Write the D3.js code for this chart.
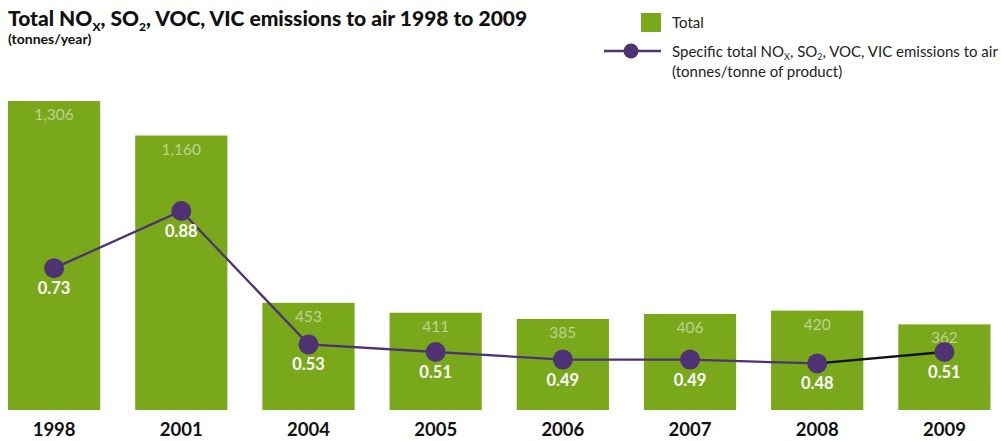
<!DOCTYPE html>
<html>
<head>
<meta charset="utf-8">
<script src="https://cdn.jsdelivr.net/npm/d3@7"></script>
<style>
  html, body { margin: 0; padding: 0; background: #fff; }
  svg { display: block; font-family: Lato, "Noto Sans", sans-serif; }
</style>
</head>
<body>
<svg id="chart" width="1001" height="441"></svg>
<script>
// Emissions per year (tonnes) and specific emissions (tonnes per tonne of product)
const years = ["1998", "2001", "2004", "2005", "2006", "2007", "2008", "2009"];
const totals = [1306, 1160, 453, 411, 385, 406, 420, 362];
const specific = [0.73, 0.88, 0.53, 0.51, 0.49, 0.49, 0.48, 0.51];

const GREEN = "#7aa81b";
const GREEN_LABEL = "#bcd394";
const PURPLE = "#4f3273";
const FONT = "Lato, 'Noto Sans', sans-serif";

const svg = d3.select("#chart");

const x = d3.scaleBand()
  .domain(years)
  .range([8, 990.5])
  .paddingInner(0.275)
  .paddingOuter(0);

const y = d3.scaleLinear().domain([0, 1306]).range([410, 101]);
const y2 = d3.scaleLinear().domain([0.51, 0.88]).range([352, 211]);

const data = years.map((yr, i) => ({ year: yr, total: totals[i], spec: specific[i] }));
const fmt = d3.format(",");

// Bars
svg.append("g").selectAll("rect")
  .data(data).join("rect")
  .attr("x", d => x(d.year))
  .attr("y", d => y(d.total))
  .attr("width", x.bandwidth())
  .attr("height", d => y(0) - y(d.total))
  .attr("fill", GREEN);

// Bar value labels
svg.append("g").selectAll("text")
  .data(data).join("text")
  .attr("x", d => x(d.year) + x.bandwidth() / 2)
  .attr("y", d => y(d.total) + 19)
  .attr("text-anchor", "middle")
  .attr("font-size", 15.5)
  .attr("fill", GREEN_LABEL)
  .text(d => fmt(d.total));

// X axis year labels
const xAxis = d3.axisBottom(x).tickSize(0).tickPadding(0);
const gx = svg.append("g").attr("transform", "translate(0,423)").call(xAxis);
gx.select(".domain").remove();
gx.selectAll("text")
  .attr("font-size", 18.5)
  .attr("font-weight", "bold")
  .attr("fill", "#111")
  .attr("font-family", FONT);

// Specific emissions line
const cx = d => x(d.year) + x.bandwidth() / 2;
const line = d3.line().x(cx).y(d => y2(d.spec));
svg.append("path")
  .datum(data.slice(0, 7))
  .attr("d", line)
  .attr("fill", "none")
  .attr("stroke", PURPLE)
  .attr("stroke-width", 2.3);
svg.append("path")
  .datum(data.slice(6))
  .attr("d", line)
  .attr("fill", "none")
  .attr("stroke", "#111")
  .attr("stroke-width", 2.3);

svg.append("g").selectAll("circle")
  .data(data).join("circle")
  .attr("cx", cx)
  .attr("cy", d => y2(d.spec))
  .attr("r", 10)
  .attr("fill", PURPLE);

svg.append("g").selectAll("text")
  .data(data).join("text")
  .attr("x", cx)
  .attr("y", d => y2(d.spec) + 26)
  .attr("text-anchor", "middle")
  .attr("font-size", 16.5)
  .attr("font-weight", "bold")
  .attr("fill", "#fff")
  .text(d => d.spec.toFixed(2));

// Title
const title = svg.append("text")
  .attr("x", 8).attr("y", 26)
  .attr("font-size", 21)
  .attr("font-weight", "900")
  .attr("fill", "#111");
title.append("tspan").text("Total NO");
title.append("tspan").attr("font-size", 12).attr("dy", 5).text("X");
title.append("tspan").attr("dy", -5).text(", SO");
title.append("tspan").attr("font-size", 12).attr("dy", 5).text("2");
title.append("tspan").attr("dy", -5).text(", VOC, VIC emissions to air 1998 to 2009");

svg.append("text")
  .attr("x", 8).attr("y", 44)
  .attr("font-size", 14)
  .attr("font-weight", "bold")
  .attr("fill", "#111")
  .text("(tonnes/year)");

// Legend
const lg = svg.append("g");
lg.append("rect")
  .attr("x", 641).attr("y", 13).attr("width", 20).attr("height", 19)
  .attr("fill", GREEN);
lg.append("text")
  .attr("x", 672).attr("y", 28)
  .attr("font-size", 15).attr("fill", "#222")
  .text("Total");
lg.append("line")
  .attr("x1", 604).attr("x2", 661).attr("y1", 51).attr("y2", 51)
  .attr("stroke", PURPLE).attr("stroke-width", 2.3);
lg.append("circle")
  .attr("cx", 631).attr("cy", 51).attr("r", 7.5)
  .attr("fill", PURPLE);
const lt = lg.append("text")
  .attr("x", 672).attr("y", 57)
  .attr("font-size", 15).attr("fill", "#222");
lt.append("tspan").text("Specific total NO");
lt.append("tspan").attr("font-size", 9).attr("dy", 3).text("X");
lt.append("tspan").attr("dy", -3).text(", SO");
lt.append("tspan").attr("font-size", 9).attr("dy", 3).text("2");
lt.append("tspan").attr("dy", -3).text(", VOC, VIC emissions to air");
lg.append("text")
  .attr("x", 672).attr("y", 77)
  .attr("font-size", 15).attr("fill", "#222")
  .text("(tonnes/tonne of product)");
</script>
</body>
</html>
